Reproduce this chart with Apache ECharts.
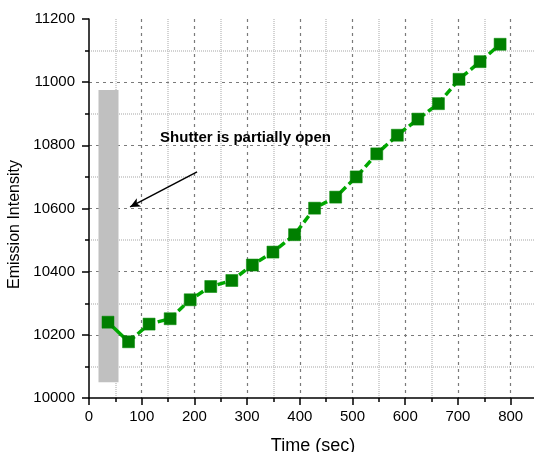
<!DOCTYPE html>
<html>
<head>
<meta charset="utf-8">
<script src="https://cdn.jsdelivr.net/npm/echarts@6/dist/echarts.min.js"></script>
<style>
  html, body { margin: 0; padding: 0; background: #fff; }
  #chart { width: 534px; height: 452px; }
</style>
</head>
<body>
<div id="chart"></div>
<script>
// Emission intensity recorded over time
const timeSec = [36, 75, 114, 154, 192, 231, 271, 310, 349, 390, 428, 468, 507, 546, 585, 624, 663, 702, 742, 780];
const intensity = [10240, 10178, 10234, 10251, 10311, 10353, 10372, 10421, 10462, 10517, 10601, 10636, 10700, 10773, 10832, 10883, 10932, 11009, 11065, 11120];

// Interval during which the shutter was partially open
const shutterTime = [18, 56];
const shutterIntensity = [10050, 10975];

// Annotation text and arrow (data coordinates)
const noteText = 'Shutter is partially open';
const notePos = [297, 10824];
const arrowFrom = [205, 10716];
const arrowTo = [78, 10605];

const pairs = timeSec.map((t, i) => [t, intensity[i]]);

const font = 'Liberation Sans, Arial, sans-serif';
const chart = echarts.init(document.getElementById('chart'));

chart.setOption({
  animation: false,
  backgroundColor: '#ffffff',
  grid: { left: 89, right: -3, top: 19, bottom: 54, containLabel: false, outerBoundsMode: 'none' },
  xAxis: {
    type: 'value',
    min: 0, max: 850, interval: 100,
    name: 'Time (sec)',
    nameLocation: 'middle',
    nameGap: 39,
    nameTextStyle: { fontFamily: font, fontSize: 18, color: '#000' },
    axisLine: { show: true, onZero: false, lineStyle: { color: '#000', width: 1.5 } },
    axisTick: { show: true, inside: false, length: 7, lineStyle: { color: '#000', width: 1.5 } },
    minorTick: { show: true, splitNumber: 2, length: 4, lineStyle: { color: '#000', width: 1.5 } },
    axisLabel: {
      fontFamily: font, fontSize: 15, color: '#000', margin: 11,
      formatter: v => (v % 100 === 0 ? String(v) : '')
    },
    splitLine: { show: true, showMinLine: false, lineStyle: { color: '#7a7a7a', width: 1.2, type: [3, 4] } },
    minorSplitLine: { show: true, lineStyle: { color: '#c4c4c4', width: 1.5, type: [1, 1] } }
  },
  yAxis: {
    type: 'value',
    min: 10000, max: 11200, interval: 200,
    name: 'Emission Intensity',
    nameLocation: 'middle',
    nameGap: 63,
    nameTextStyle: { fontFamily: font, fontSize: 16, color: '#000', padding: [0, 32, 0, 0] },
    axisLine: { show: true, onZero: false, lineStyle: { color: '#000', width: 1.5 } },
    axisTick: { show: true, inside: false, length: 7, lineStyle: { color: '#000', width: 1.5 } },
    minorTick: { show: true, splitNumber: 2, length: 4, lineStyle: { color: '#000', width: 1.5 } },
    axisLabel: { fontFamily: font, fontSize: 15, color: '#000', margin: 14, formatter: v => String(v) },
    splitLine: { show: true, showMinLine: false, showMaxLine: false, lineStyle: { color: '#7a7a7a', width: 1.2, type: [3, 4] } },
    minorSplitLine: { show: true, lineStyle: { color: '#c4c4c4', width: 1.5, type: [1, 1] } }
  },
  series: [
    {
      // first step drawn as a solid segment
      type: 'line',
      data: pairs.slice(0, 2),
      symbol: 'none',
      lineStyle: { color: '#00a800', width: 3.5, type: 'solid' },
      z: 3,
      markArea: {
        silent: true,
        itemStyle: { color: '#c0c0c0', opacity: 1 },
        data: [[
          { coord: [shutterTime[0], shutterIntensity[0]] },
          { coord: [shutterTime[1], shutterIntensity[1]] }
        ]]
      }
    },
    {
      type: 'line',
      data: pairs.slice(1),
      symbol: 'none',
      lineStyle: { color: '#00a800', width: 3.5, type: [8, 4] },
      z: 3
    },
    {
      type: 'line',
      data: pairs,
      symbol: 'rect',
      symbolSize: 12,
      lineStyle: { width: 0, opacity: 0 },
      itemStyle: { color: '#007f00', borderColor: '#008a00', borderWidth: 0.5 },
      z: 4,
      markLine: {
        silent: true,
        symbol: ['none', 'arrow'],
        symbolSize: [7, 10],
        label: { show: false },
        lineStyle: { color: '#000', width: 1.5, type: 'solid' },
        data: [[ { coord: arrowFrom }, { coord: arrowTo } ]]
      },
      markPoint: {
        silent: true,
        symbol: 'rect',
        symbolSize: 1,
        itemStyle: { color: 'rgba(0,0,0,0)' },
        label: {
          show: true,
          position: 'inside',
          formatter: noteText,
          fontFamily: font,
          fontSize: 15,
          fontWeight: 'bold',
          color: '#000'
        },
        data: [{ coord: notePos }]
      }
    }
  ]
});
</script>
</body>
</html>
